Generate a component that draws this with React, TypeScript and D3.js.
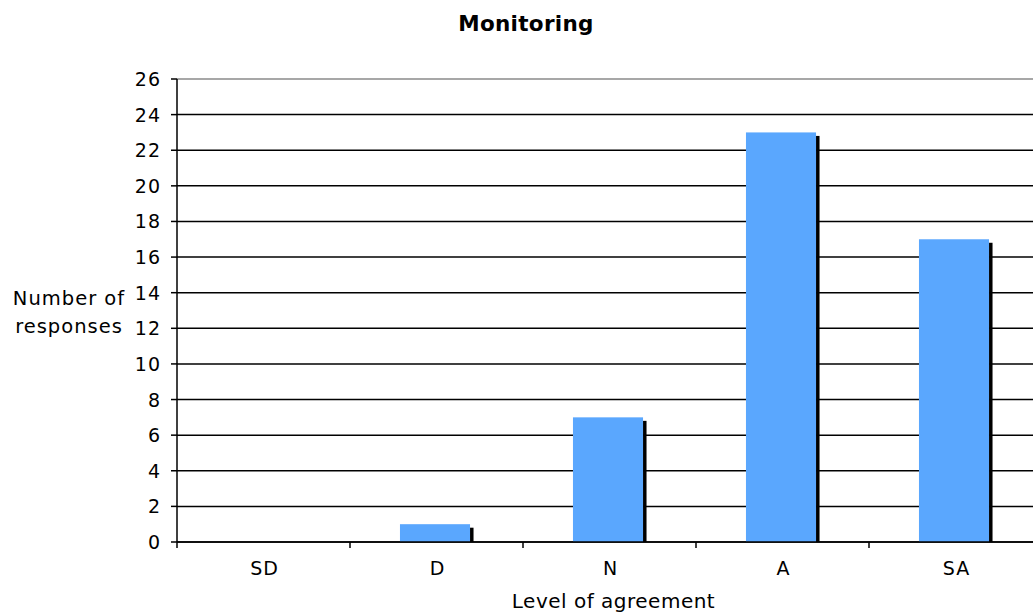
import { useEffect, useRef } from "react"
import * as d3 from "d3"

const categories = ["SD", "D", "N", "A", "SA"]
const responses = [0, 1, 7, 23, 17]
const yTicks = [0, 2, 4, 6, 8, 10, 12, 14, 16, 18, 20, 22, 24, 26]

const App = () => {
	const svgRef = useRef(null)

	useEffect(() => {
		const svg = d3.select(svgRef.current)
		svg.selectAll("*").remove()

		const width = 1033
		const height = 616
		const left = 177
		const right = 1042
		const top = 79
		const bottom = 542
		const font = "'DejaVu Sans', Verdana, sans-serif"

		svg.attr("width", width).attr("height", height)

		const x = d3.scaleBand().domain(categories).range([left, right]).padding(0)
		const y = d3.scaleLinear().domain([0, 26]).range([bottom, top])

		// grid lines, top one is grey
		svg.append("g")
			.selectAll("line")
			.data(yTicks)
			.enter()
			.append("line")
			.attr("x1", left)
			.attr("x2", right)
			.attr("y1", d => y(d))
			.attr("y2", d => y(d))
			.attr("stroke", d => (d === 26 ? "#8a8a8a" : "#000"))
			.attr("stroke-width", 1.5)

		// bars with a little black shadow on the right
		const barW = x.bandwidth() * 0.405
		const bars = svg.append("g")
		const data = categories.map((c, i) => ({ c, v: responses[i] })).filter(d => d.v > 0)

		bars.selectAll("rect.shadow")
			.data(data)
			.enter()
			.append("rect")
			.attr("class", "shadow")
			.attr("x", d => (x(d.c) as number) + (x.bandwidth() - barW) / 2 - 1.5 + barW)
			.attr("y", d => y(d.v) + 3.5)
			.attr("width", 3.5)
			.attr("height", d => bottom - y(d.v) - 3.5)
			.attr("fill", "#000")

		bars.selectAll("rect.bar")
			.data(data)
			.enter()
			.append("rect")
			.attr("class", "bar")
			.attr("x", d => (x(d.c) as number) + (x.bandwidth() - barW) / 2 - 1.5)
			.attr("y", d => y(d.v))
			.attr("width", barW)
			.attr("height", d => bottom - y(d.v))
			.attr("fill", "#5aa7fe")

		// x axis line on top of bars
		svg.append("line")
			.attr("x1", left)
			.attr("x2", right)
			.attr("y1", bottom)
			.attr("y2", bottom)
			.attr("stroke", "#000")
			.attr("stroke-width", 1.5)

		// y axis
		svg.append("line")
			.attr("x1", left)
			.attr("x2", left)
			.attr("y1", top)
			.attr("y2", bottom + 6)
			.attr("stroke", "#000")
			.attr("stroke-width", 1.5)

		svg.append("g")
			.selectAll("line")
			.data(yTicks)
			.enter()
			.append("line")
			.attr("x1", left - 6)
			.attr("x2", left)
			.attr("y1", d => y(d))
			.attr("y2", d => y(d))
			.attr("stroke", "#000")
			.attr("stroke-width", 1.5)

		svg.append("g")
			.selectAll("text")
			.data(yTicks)
			.enter()
			.append("text")
			.attr("x", 161)
			.attr("y", d => y(d) + 7)
			.attr("text-anchor", "end")
			.style("font-family", font)
			.style("font-size", "19px")
			.style("letter-spacing", "1px")
			.text(d => d)

		// x axis ticks between categories
		svg.append("g")
			.selectAll("line")
			.data(categories.slice(1))
			.enter()
			.append("line")
			.attr("x1", d => x(d) as number)
			.attr("x2", d => x(d) as number)
			.attr("y1", bottom)
			.attr("y2", bottom + 6)
			.attr("stroke", "#000")
			.attr("stroke-width", 1.5)

		svg.append("g")
			.selectAll("text")
			.data(categories)
			.enter()
			.append("text")
			.attr("x", d => (x(d) as number) + x.bandwidth() / 2 + 1)
			.attr("y", 575)
			.attr("text-anchor", "middle")
			.style("font-family", font)
			.style("font-size", "19px")
			.style("letter-spacing", "1px")
			.text(d => d)

		// titles
		svg.append("text")
			.attr("x", 526)
			.attr("y", 31)
			.attr("text-anchor", "middle")
			.style("font-family", font)
			.style("font-size", "21.5px")
			.style("font-weight", "bold")
			.style("letter-spacing", "0.3px")
			.text("Monitoring")

		svg.append("text")
			.attr("x", (left + right) / 2 + 4)
			.attr("y", 608)
			.attr("text-anchor", "middle")
			.style("font-family", font)
			.style("font-size", "20px")
			.style("letter-spacing", "0.5px")
			.text("Level of agreement")

		const yTitle = svg.append("text")
			.attr("text-anchor", "middle")
			.style("font-family", font)
			.style("font-size", "19.5px")
			.style("letter-spacing", "1px")
		yTitle.append("tspan").attr("x", 69).attr("y", 305).text("Number of")
		yTitle.append("tspan").attr("x", 69).attr("y", 333).text("responses")
	}, [])

	return <svg ref={svgRef} style={{ position: "absolute", left: 0, top: 0 }}></svg>
}

export default App
